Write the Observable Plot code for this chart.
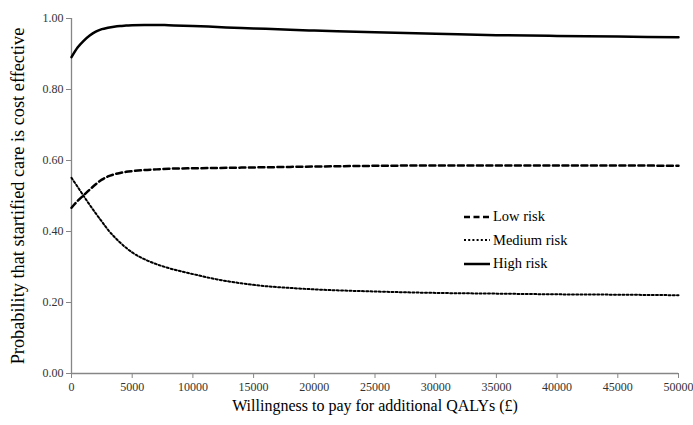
<!DOCTYPE html>
<html>
<head>
<meta charset="utf-8">
<script src="https://cdn.jsdelivr.net/npm/d3@7"></script>
<script src="https://cdn.jsdelivr.net/npm/@observablehq/plot@0.6"></script>
<style>
  body { margin: 0; background: #fff; }
  #wrap { position: relative; width: 693px; height: 425px; font-family: "Liberation Serif", "Times New Roman", Tinos, "DejaVu Serif", serif; }
  #legend { position: absolute; left: 464px; top: 205px; font-size: 14.5px; color: #000; }
  #legend div { display: flex; align-items: center; height: 23.5px; }
  #legend svg { margin-right: 3px; }
</style>
</head>
<body>
<div id="wrap"></div>
<script>
const wtp = [0, 500, 1000, 1500, 2000, 2500, 3000, 3500, 4000, 4500, 5000, 6000, 7000, 8000, 10000, 12000, 14000, 16000, 18000, 20000, 25000, 30000, 35000, 40000, 45000, 50000];
const lowRisk =    [0.467, 0.486, 0.502, 0.518, 0.533, 0.546, 0.555, 0.561, 0.565, 0.568, 0.570, 0.573, 0.575, 0.577, 0.578, 0.579, 0.580, 0.581, 0.582, 0.583, 0.585, 0.586, 0.586, 0.586, 0.586, 0.585];
const mediumRisk = [0.551, 0.526, 0.500, 0.475, 0.451, 0.428, 0.405, 0.386, 0.369, 0.354, 0.341, 0.322, 0.308, 0.297, 0.280, 0.265, 0.254, 0.246, 0.241, 0.237, 0.231, 0.227, 0.225, 0.223, 0.222, 0.2205];
const highRisk =   [0.891, 0.918, 0.937, 0.952, 0.963, 0.970, 0.974, 0.977, 0.979, 0.980, 0.981, 0.982, 0.982, 0.981, 0.979, 0.976, 0.973, 0.971, 0.968, 0.966, 0.961, 0.957, 0.953, 0.951, 0.949, 0.947];
const seriesNames = ["Low risk", "Medium risk", "High risk"];
const xTicks = [0, 5000, 10000, 15000, 20000, 25000, 30000, 35000, 40000, 45000, 50000];
const yTicks = [0, 0.2, 0.4, 0.6, 0.8, 1.0];
const xTitle = "Willingness to pay for additional QALYs (£)";
const yTitle = "Probability that startified care is cost effective";

const styles = {
  "Low risk":    {strokeWidth: 2.5, dash: "6,3.5"},
  "Medium risk": {strokeWidth: 2, dash: "2,2.2"},
  "High risk":   {strokeWidth: 2.5, dash: null}
};
const seriesVals = [lowRisk, mediumRisk, highRisk];
const data = seriesNames.map((name, i) => wtp.map((x, j) => ({x, y: seriesVals[i][j], name})));

const axisColor = "#868686";
const font = "'Liberation Serif', 'Times New Roman', Tinos, 'DejaVu Serif', serif";

const lineMarks = seriesNames.map((name, i) => Plot.line(data[i], {
  x: "x", y: "y", stroke: "#000",
  strokeWidth: styles[name].strokeWidth,
  strokeDasharray: styles[name].dash,
  curve: "monotone-x"
}));

const chart = Plot.plot({
  width: 693, height: 425,
  marginLeft: 71, marginRight: 15, marginTop: 18, marginBottom: 52,
  style: {fontFamily: font, background: "#fff", color: "#000"},
  x: {domain: [0, 50000]},
  y: {domain: [0, 1]},
  marks: [
    Plot.axisY({ticks: yTicks, tickFormat: d3.format(".2f"), tickSize: 5, tickPadding: 3, stroke: axisColor, fill: "#333", fontSize: 12, fontFamily: font, label: null}),
    Plot.axisX({ticks: xTicks, tickFormat: d3.format("d"), tickSize: 5, tickPadding: 4, stroke: axisColor, fill: "#333", fontSize: 12, fontFamily: font, label: null}),
    Plot.ruleX([0], {stroke: axisColor, strokeWidth: 1.3}),
    Plot.ruleY([0], {stroke: axisColor, strokeWidth: 1.3}),
    ...lineMarks,
    Plot.text([yTitle], {frameAnchor: "left", textAnchor: "middle", rotate: -90, dx: -53, fontSize: 18.3, fill: "#000", fontFamily: font}),
    Plot.text([xTitle], {frameAnchor: "bottom", textAnchor: "middle", dy: 37, fontSize: 16, fill: "#000", fontFamily: font})
  ]
});

const wrap = document.getElementById("wrap");
wrap.appendChild(chart);

const legend = document.createElement("div");
legend.id = "legend";
seriesNames.forEach(name => {
  const row = document.createElement("div");
  const s = styles[name];
  row.innerHTML = `<svg width="26" height="6"><line x1="0" x2="26" y1="3" y2="3" stroke="#000" stroke-width="${s.strokeWidth}" ${s.dash ? `stroke-dasharray="${s.dash}"` : ""}/></svg><span>${name}</span>`;
  legend.appendChild(row);
});
wrap.appendChild(legend);
</script>
</body>
</html>
